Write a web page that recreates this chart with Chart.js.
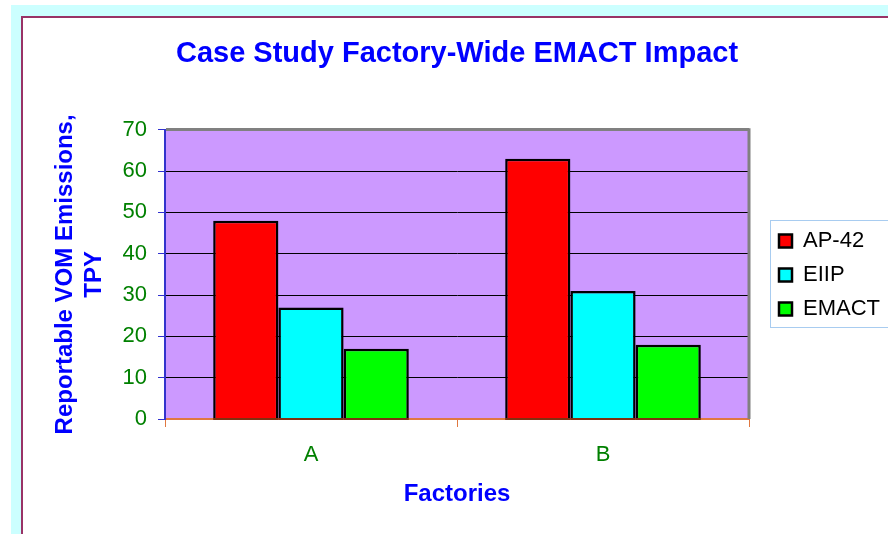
<!DOCTYPE html>
<html>
<head>
<meta charset="utf-8">
<script src="https://cdn.jsdelivr.net/npm/chart.js"></script>
<style>
  body { margin: 0; background: #fff; }
  #wrap { width: 888px; height: 534px; }
</style>
</head>
<body>
<div id="wrap"><canvas id="myChart"></canvas></div>
<script>
let factories = ["A", "B"];
let ap42 = [48, 63];
let eiip = [27, 31];
let emact = [17, 18];
let yMin = 0, yMax = 70, yStep = 10;

const FONT = "'Liberation Sans', Arial, sans-serif";

// page frame, plot background, plot border, legend box
const frame = {
    id: 'frame',
    beforeDraw(chart) {
        const c = chart.ctx, a = chart.chartArea;
        c.save();
        c.fillStyle = '#ffffff'; c.fillRect(0, 0, chart.width, chart.height);
        c.fillStyle = '#ccffff'; c.fillRect(11, 5, chart.width, chart.height);
        c.fillStyle = '#993366'; c.fillRect(21, 16, chart.width, chart.height);
        c.fillStyle = '#ffffff'; c.fillRect(23, 18, chart.width, chart.height);
        c.fillStyle = '#cc99ff'; c.fillRect(a.left, a.top, a.right - a.left, a.bottom - a.top);
        c.restore();
    },
    afterLayout(chart) {
        // move the legend a bit away from the plot
        const lg = chart.legend;
        const dx = 767 - lg.left;
        lg.left += dx;
        lg.right += dx;
        lg.top += 8;
        lg.bottom += 8;
    },
    afterDatasetsDraw(chart) {
        const c = chart.ctx, a = chart.chartArea;
        c.save();
        c.strokeStyle = '#808080';
        c.lineWidth = 3;
        c.beginPath();
        c.moveTo(a.right, a.top - 1.5);
        c.lineTo(a.right, a.bottom);
        c.stroke();
        // dark line under the bars
        c.strokeStyle = '#803010';
        c.lineWidth = 2;
        chart.data.datasets.forEach((ds, i) => {
            chart.getDatasetMeta(i).data.forEach(bar => {
                c.beginPath();
                c.moveTo(bar.x - bar.width / 2, a.bottom);
                c.lineTo(bar.x + bar.width / 2, a.bottom);
                c.stroke();
            });
        });
        c.restore();
    },
    afterDraw(chart) {
        const boxes = chart.legend.legendHitBoxes;
        if (!boxes || !boxes.length) return;
        const first = boxes[0], last = boxes[boxes.length - 1];
        const c = chart.ctx;
        c.save();
        c.strokeStyle = '#a8ccf0';
        c.lineWidth = 1;
        c.strokeRect(first.left - 8.5, first.top - 9.5, 200, last.top + last.height - first.top + 17);
        c.restore();
    }
};

let myChart = document.getElementById("myChart").getContext("2d");
let emactChart = new Chart(myChart, {
    type: 'bar',
    data: {
        labels: factories,
        datasets: [
            { label: "AP-42", data: ap42, backgroundColor: '#ff0000' },
            { label: "EIIP", data: eiip, backgroundColor: '#00ffff' },
            { label: "EMACT", data: emact, backgroundColor: '#00ff00' }
        ]
    },
    options: {
        responsive: true,
        maintainAspectRatio: false,
        animation: false,
        devicePixelRatio: 1,
        layout: { padding: { left: 0, right: 16, top: 0, bottom: 0 } },
        datasets: {
            bar: {
                borderColor: '#000000',
                borderWidth: 2.5,
                categoryPercentage: 0.67,
                barPercentage: 1.0
            }
        },
        plugins: {
            title: {
                display: true,
                text: 'Case Study Factory-Wide EMACT Impact',
                color: '#0000ff',
                fullSize: false,
                font: { family: FONT, size: 29, weight: 'bold' },
                padding: { top: 37, bottom: 58 }
            },
            legend: {
                position: 'right',
                labels: {
                    color: '#000000',
                    font: { family: FONT, size: 22 },
                    boxWidth: 13,
                    boxHeight: 13,
                    padding: 12
                }
            },
            tooltip: { enabled: false }
        },
        scales: {
            x: {
                afterFit: s => { s.height = 115; },
                grid: {
                    offset: true,
                    drawOnChartArea: false,
                    color: '#e07840',
                    tickColor: '#e07840',
                    tickLength: 8
                },
                border: { display: true, color: '#e07840', width: 2 },
                ticks: {
                    color: '#008000',
                    font: { family: FONT, size: 22 },
                    padding: 15
                },
                title: {
                    display: true,
                    text: 'Factories',
                    color: '#0000ff',
                    font: { family: FONT, size: 24, weight: 'bold' },
                    padding: { top: 0, bottom: 25 }
                }
            },
            y: {
                min: yMin,
                max: yMax,
                afterFit: s => { s.width = 165; },
                grid: {
                    color: ctx => ctx.tick && ctx.tick.value === yMax ? '#808080'
                        : (ctx.tick && ctx.tick.value === yMin ? 'rgba(0,0,0,0)' : '#000000'),
                    lineWidth: ctx => ctx.tick && ctx.tick.value === yMax ? 3 : 1,
                    tickColor: '#3030d0',
                    tickWidth: 1,
                    tickLength: 7
                },
                border: { display: true, color: '#3333cc', width: 2 },
                ticks: {
                    stepSize: yStep,
                    color: '#008000',
                    font: { family: FONT, size: 22 },
                    padding: 11
                },
                title: {
                    display: true,
                    text: ['Reportable VOM Emissions,', 'TPY'],
                    color: '#0000ff',
                    font: { family: FONT, size: 24, weight: 'bold' },
                    padding: { top: 51, bottom: 0 }
                }
            }
        }
    },
    plugins: [frame]
});
</script>
</body>
</html>
